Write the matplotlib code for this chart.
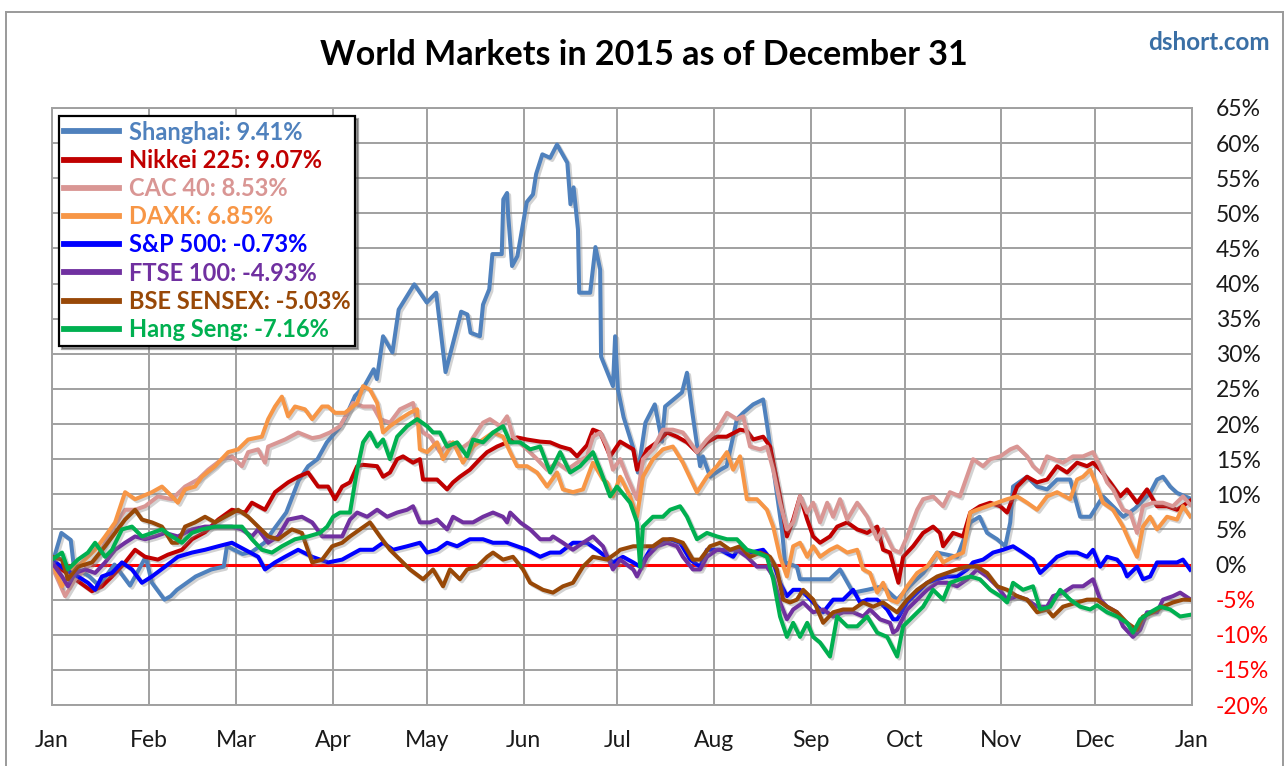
import matplotlib
matplotlib.use("Agg")
import matplotlib.pyplot as plt
import matplotlib.patheffects as pe
from matplotlib.lines import Line2D

# ---------------- data (day of year, % change) ----------------
MONTH_DAYS = [0, 31, 59, 90, 120, 151, 181, 212, 243, 273, 304, 334, 365]
MONTH_LABELS = ["Jan", "Feb", "Mar", "Apr", "May", "Jun", "Jul", "Aug", "Sep", "Oct", "Nov", "Dec", "Jan"]
Y_TICKS = list(range(-20, 70, 5))

SERIES_NAMES = ["Shanghai: 9.41%", "Nikkei 225: 9.07%", "CAC 40: 8.53%", "DAXK: 6.85%",
                "S&P 500: -0.73%", "FTSE 100: -4.93%", "BSE SENSEX: -5.03%", "Hang Seng: -7.16%"]
SERIES_COLORS = ["#4F81BD", "#C00000", "#D99694", "#F79646", "#0000FF", "#7030A0", "#984807", "#00B050"]

SH_DAYS = [0, 3, 6, 7, 12, 15, 20, 25, 30, 32, 36, 38, 40, 46, 51, 55, 56, 61, 64, 68, 71, 75, 79, 82, 85, 88,
           92, 94, 97, 100, 103, 104, 106, 109, 111, 116, 120, 123, 126, 131, 133, 134, 137, 138, 140, 141, 144,
           144.5, 145.7, 146, 147.3, 149, 152, 154, 155, 157, 159.5, 161.7, 162.7, 165, 166, 167, 168.4, 168.8,
           172.3, 174, 175.5, 175.8, 179.6, 180.3, 181.2, 183, 186, 187.6, 190, 193, 195.3, 196.3, 201.7, 203.3,
           205, 207.5, 208.4, 210.7, 214, 216, 219.3, 221.3, 224.5, 227.7, 229, 231, 233.7, 234.7, 238.5, 239.5,
           249, 252.3, 256.5, 261, 266, 269.3, 270.6, 274.7, 279, 283.4, 289.8, 294, 297, 299.4, 302.6, 305.2,
           306.8, 307.7, 312.2, 315.4, 318.6, 321.8, 326, 329.2, 332.4, 336.5, 343, 346.8, 351.6, 353.8, 355.7,
           358, 360.2, 364.4]
SH_VALS = [0, 4.5, 3.5, -0.3, -1.7, -3, 0, -3, 1.1, -2.6, -5, -4.5, -3.6, -1.7, -0.7, -0.3, 2.6, 1.5, 1.8, 3.1,
           5, 7.4, 12, 14, 15, 17.4, 19.5, 21, 24, 25.4, 27.8, 26.4, 32.5, 30.2, 36.3, 39.9, 37.3, 38.7, 27.4, 36,
           35.6, 33, 32.5, 37, 39.2, 44.2, 44.2, 52, 52.9, 50.1, 42.5, 43.9, 51.6, 52.7, 55.6, 58.4, 57.9, 59.8, 59,
           57.2, 51.3, 53.7, 47.7, 38.7, 38.7, 45.2, 42, 29.6, 25.4, 32.5, 24.9, 21, 16.7, 13.1, 20.2, 22.8, 17.5,
           22.5, 24.5, 27.3, 21.7, 14, 15.4, 12.5, 13.5, 14, 20.7, 21.6, 22.8, 23.5, 19.7, 13.5, 5, 0.3, -0.3, -2.1,
           -2.1, -0.7, -4, -3.6, -3.1, -4.5, -5, -3, -1.2, 1.7, 1.1, 6, 6.8, 4.5, 3.6, 2.6, 6, 11.1, 12.5, 11.1,
           10.7, 12.1, 12.1, 6.8, 6.8, 9.7, 6.8, 8, 10.2, 12.1, 12.5, 11.1, 10.2, 9.41]

NK_DAYS = [0, 12.8, 16, 19.2, 23.4, 26.6, 29.8, 33.9, 37.1, 41.6, 44.8, 49, 53.2, 57.6, 61.8, 64, 68.2, 71.4,
           75.6, 78.8, 82, 85.2, 88.4, 90.6, 92.9, 95.4, 97.7, 99.6, 104.1, 106, 108.2, 110.5, 112.4, 115.6, 117.8,
           118.8, 123.3, 126.5, 128.4, 130.6, 133.8, 137, 139.3, 142.5, 145.7, 148.9, 152.1, 156.3, 159.5, 162.7,
           165.9, 168.1, 171.3, 173.2, 175.5, 178.7, 181.9, 186.1, 187.3, 190.5, 193.7, 196.9, 200.1, 203.3, 206.5,
           209.7, 212.9, 216, 220.3, 222.5, 224.5, 227.7, 229.9, 233.1, 235.3, 237.3, 239.5, 241.8, 243.7, 245.9,
           249.1, 251.4, 254.6, 257.8, 261, 264.2, 266.1, 268.3, 271, 272.5, 275.7, 278.9, 282.1, 284.3, 285.3,
           288.5, 291.7, 294, 297.1, 300.4, 303.6, 305.8, 309, 312.2, 315.4, 318.6, 321.8, 325, 328.2, 331.4,
           333.3, 335.6, 338.8, 342, 344.2, 347.4, 350.6, 353.8, 357, 360.2, 364.4]
NK_VALS = [0.3, -3.8, -3.1, -1.7, 0.3, 2.1, 1.1, 0.7, 1.4, 2.1, 3.6, 4.6, 6.4, 7.8, 7.4, 8.8, 7.8, 10.3, 11.7,
           12.5, 13.1, 11.1, 11.1, 9.3, 11.1, 11.7, 14, 14.2, 14, 12.5, 13.1, 15, 15.4, 14.5, 15, 12.1, 12.1, 10.7,
           11.7, 12.5, 13.5, 15, 16, 16.8, 17.4, 18.1, 17.8, 17.5, 17.4, 16.8, 16.4, 15.4, 17, 19.2, 18.8, 15.4,
           17.5, 16.4, 13.5, 16.4, 17.4, 18.8, 18.2, 17.4, 16, 17.4, 18.2, 18.2, 19.2, 19, 17.8, 18.2, 16.8, 9.7,
           4, 6.4, 9.7, 6.4, 4, 3.1, 4, 5.4, 6, 5, 4.5, 5.4, 2.1, 1.7, -2.6, 1.1, 2.6, 4.5, 5.4, 4.5, 2.6, 4.5, 4,
           7.4, 8.3, 8.8, 8.3, 7.4, 11.1, 12.5, 11.7, 12.1, 14, 13.1, 14.5, 14, 14.5, 13.5, 11.7, 9.7, 10.7, 8.8,
           10.7, 8.3, 8.3, 7.8, 9.07]

CAC_DAYS = [0, 4.2, 7.4, 10.6, 14.7, 19.2, 23.4, 26.6, 29.8, 33.9, 38.4, 42.6, 46.7, 50, 54.4, 57.6, 60.8, 62.8,
            66, 68.2, 69.2, 74.6, 78.8, 83.3, 85.8, 89, 92.2, 96.4, 99.6, 102.8, 105, 108.2, 111.4, 115.6, 116.9,
            118.8, 121, 124.2, 127.4, 130.6, 133.8, 138, 140.2, 143.5, 145.7, 147.6, 152.1, 155.3, 158.5, 161.7,
            164.9, 168.1, 171.3, 173.2, 175.5, 177.7, 179.6, 181.9, 184.1, 187.3, 189.2, 192.4, 195.6, 198.8, 202,
            206.5, 209.7, 212.9, 216.1, 219.3, 221.3, 223.5, 226.7, 228.9, 230.9, 233.1, 235.3, 237.3, 239.5,
            241.8, 243.7, 245.9, 248.2, 250.1, 252.3, 254.6, 257.8, 261, 264.2, 266.1, 269.3, 271.5, 273.8, 277,
            278.9, 282.1, 285.3, 287.5, 290.7, 294.9, 298.1, 300.4, 303.6, 306.8, 309, 312.2, 314.1, 316.4, 318.6,
            323.7, 326.9, 330.1, 333.3, 335.6, 337.8, 339.7, 342.9, 345.2, 347.4, 349.3, 352.5, 355.7, 358.9,
            362.1, 364.4]
CAC_VALS = [-0.3, -4.5, -2.1, -0.7, 1.1, 5, 7.8, 7.8, 8.3, 9.7, 9.3, 11.1, 12.1, 13.5, 15, 15.4, 14, 16, 16.4,
            14.5, 16.8, 17.8, 18.8, 18, 18.2, 18.8, 19.7, 23, 22.5, 22.5, 20.7, 20.2, 22.1, 23, 20.2, 18.8, 18.2, 16,
            17.4, 16.4, 17.4, 20.2, 20.7, 19.7, 21.1, 18.2, 16.4, 15, 13.5, 14.5, 13.5, 14.5, 15.4, 18.2, 18.8,
            16.8, 13.5, 15, 12.5, 9.3, 15, 16.4, 19.2, 19.2, 18.8, 16, 17.8, 19.2, 21.6, 20.7, 21.1, 16.8, 16.4,
            16.8, 13.5, 8.8, 5, 6, 9.7, 7.4, 8.8, 6, 8.8, 6.8, 9.3, 6.4, 8.8, 6.8, 3.6, 5, 2.1, 1.7, 4, 7.8, 9.3,
            9.7, 8.3, 10.3, 9.7, 15, 14, 15, 15.4, 16.4, 16.8, 15.4, 14, 13.1, 15.4, 14.5, 15.4, 15.4, 16, 14, 11.7,
            10.7, 7.8, 7.4, 4.5, 8.3, 8.8, 8.8, 8.3, 9.7, 8.53]

DAX_DAYS = [0, 3.2, 6.4, 9.6, 13.8, 17, 20.2, 23.4, 26.6, 28.8, 32, 35.2, 38.4, 40.3, 42.6, 45.8, 48, 52.2,
            56.4, 59.6, 62.8, 67.2, 69.2, 71.4, 73.6, 75.6, 77.8, 81, 83.3, 86.5, 88.4, 90.6, 93.8, 97.7, 99.6,
            101.8, 104.1, 106, 108.2, 111.4, 114.6, 116.9, 117.8, 120.1, 123.3, 125.2, 128.4, 131.6, 134.8, 138,
            141.2, 144.4, 146.7, 148.9, 152.1, 155.3, 158.5, 161.7, 163.6, 166.8, 170, 173.2, 176.4, 177.7, 179.6,
            181.9, 185.1, 187.3, 189.2, 192.4, 195.6, 198.8, 202, 206.5, 209.7, 212.9, 216.1, 218.1, 220.3, 222.5,
            225.7, 228.9, 230.9, 233.1, 235.3, 237.3, 239.5, 241.8, 243.7, 245.9, 249.1, 251.4, 254.6, 257.8,
            259.7, 261.9, 264.2, 266.1, 268.3, 270.6, 273.8, 277, 280.2, 283.4, 285.3, 288.5, 291.7, 294, 296.2,
            299.4, 302.6, 305.8, 309, 312.2, 315.4, 318.6, 321.8, 326, 328.2, 330.1, 332.4, 334.6, 336.5, 339.7,
            342.9, 345.2, 347.4, 349.3, 351.6, 353.8, 357, 360.2, 362.1, 364.4]
DAX_VALS = [0.3, -3.1, -0.7, 0.3, 2.1, 4, 6, 10.3, 9.3, 9.7, 10.3, 11.1, 9.7, 8.8, 10.7, 11.1, 12.5, 14, 16, 16.4,
            17.8, 18.2, 20.7, 22.5, 23.9, 21.1, 22.5, 22.1, 20.7, 22.5, 22.5, 21.6, 21.6, 23, 25.4, 24.9, 23, 18.8,
            19.7, 20.7, 21.6, 22.1, 16.4, 16, 17.4, 15, 17.4, 14.5, 16.8, 17.8, 18.8, 18.2, 16, 14, 14, 13.1, 11.1,
            13.1, 10.7, 10.3, 10.7, 14.5, 12.1, 11.7, 9.7, 12.5, 9.7, 6.8, 12.5, 15, 16.4, 16.8, 14.5, 10.3, 12.5,
            14, 16, 13.5, 15.4, 9.3, 9.3, 7.8, 5.4, 1.1, -1.7, 2.6, 3.1, 1.1, 2.6, 1.1, 2.1, 2.6, 1.7, 2.1, -0.7,
            -1.2, -4, -2.6, -5, -5.4, -3.1, -1.2, -0.3, 1.7, 0.3, 1.1, 1.7, 7.4, 7.8, 8.3, 8.8, 9.3, 9.7, 8.8, 7.8,
            9.7, 10.3, 9.3, 12.1, 12.5, 13.5, 11.1, 8.8, 7.8, 5.4, 3.1, 1.1, 5.4, 6.8, 5, 6.8, 6.4, 8.3, 6.85]

SP_DAYS = [0, 4.2, 8.3, 11.5, 13.8, 16, 19.2, 22.4, 25.6, 28.8, 32, 36.2, 40.3, 44.8, 49, 53.2, 57.6, 61.8, 66,
           68.2, 71.4, 74.6, 78.8, 83.3, 88.4, 92.9, 94.5, 98.6, 102.8, 106, 109.2, 113.7, 117.8, 120.1, 123.3,
           126.5, 129.7, 133.8, 138, 141.2, 145.7, 148.9, 152.1, 156.3, 159.5, 162.7, 166.8, 171.3, 174.5, 179.6,
           182.8, 186.1, 188.3, 191.5, 194.7, 197.9, 201.1, 204.3, 207.5, 209.7, 213.9, 218.1, 220.3, 223.5,
           227.7, 230.9, 233.1, 235.3, 237.3, 239.5, 241.8, 243.7, 246.9, 250.1, 253.3, 256.5, 258.7, 261, 264.2,
           267.4, 269.3, 270.6, 273.8, 277, 280.2, 283.4, 286.6, 289.8, 293, 294.9, 298.1, 301.3, 304.5, 307.7,
           310.9, 314.1, 316.4, 318.6, 321.8, 325, 328.2, 331.4, 333.3, 335.6, 337.8, 341, 342.9, 344.2, 347.4,
           349.3, 351.6, 353.8, 357, 360.2, 362.1, 364.4]
SP_VALS = [0.7, -0.7, -1.7, -2.6, -3.6, -1.7, -1.2, 0.3, -0.7, -2.6, -1.7, -0.3, 1.1, 1.7, 2.1, 2.6, 3.1, 2.1, 1.1,
           -0.7, 0.3, 1.1, 2.1, 1.1, 0.3, 0.7, 1.1, 2.1, 2.1, 3.1, 2.1, 2.6, 3.1, 1.7, 2.1, 3.1, 2.6, 3.6, 3.6, 3.1,
           3.1, 2.6, 2.1, 1.1, 1.7, 1.7, 3.1, 3.1, 2.1, 0.3, 1.1, 0.3, -0.3, 2.1, 3.1, 3.6, 3.1, 0.7, -0.3, 2.1,
           2.1, 1.1, 2.6, 1.7, 2.1, 0.3, -2.6, -4.5, -3.6, -3.6, -4.5, -5.4, -6.8, -5, -5, -3.6, -5.4, -5, -5,
           -6.4, -7.8, -7.8, -5.4, -4, -2.6, -2.1, -1.7, -1.7, -0.7, 0.3, 0.7, 1.7, 2.1, 2.6, 1.7, 0.7, -1.2, -0.3,
           1.1, 1.7, 1.7, 1.1, 2.1, -0.3, 1.1, 0.7, -0.3, -1.7, -0.3, -2.1, -1.7, 0.3, 0.3, 0.3, 0.7, -0.73]

FT_DAYS = [0, 3.2, 5.1, 7.4, 10.6, 13.8, 17, 20.2, 23.4, 26.6, 29.8, 33, 36.2, 40.3, 44.8, 49, 53.2, 57.6, 60.8,
           64, 66, 69.2, 72.4, 75.6, 80, 83.3, 86.5, 89.7, 92.9, 95.4, 97.7, 100.9, 104.1, 107.3, 110.5, 113.7,
           115.6, 117.8, 121, 123.3, 126.5, 128.4, 131.6, 134.8, 138, 141.2, 144.4, 145.7, 146.7, 149.9, 153.1,
           156.3, 159.5, 160.4, 163.6, 166.8, 170, 173.2, 176.4, 179.6, 181.9, 186.1, 187.3, 190.5, 193.7, 196.9,
           200.1, 202, 205.2, 207.5, 209.7, 212.9, 216.1, 219.3, 222.5, 225.7, 228.9, 230.9, 233.1, 235.3, 237.3,
           240.5, 243.7, 246.9, 250.1, 253.3, 256.5, 259.7, 261.9, 265.1, 268.3, 269.3, 270.6, 273.8, 277, 280.2,
           283.4, 286.6, 289.8, 293, 296.2, 299.4, 302.6, 305.8, 309, 312.2, 315.4, 318.6, 320.5, 323.7, 326.9,
           330.1, 333.3, 335.6, 337.8, 341, 342.9, 346.1, 348.4, 350.6, 353.8, 355.7, 358.9, 361.2, 364.4]
FT_VALS = [0.3, -1.7, -3.1, -1.2, -0.7, -1.2, 0.3, 2.1, 3.1, 4, 3.6, 4, 4.5, 4, 5, 5.4, 5.4, 5.4, 5, 4, 5, 3.1, 4,
           6.4, 6.8, 6, 4, 4, 4, 6.4, 7.4, 6.8, 7.8, 6.8, 7.4, 7.8, 8.3, 6, 6, 6.4, 5, 6.8, 6, 6, 6.8, 7.4, 6.8, 6,
           7.4, 6, 5, 3.6, 3.6, 4, 3.1, 2.1, 3.1, 4, 2.6, -0.7, 0.7, -0.7, -1.7, 1.1, 2.6, 3.1, 2.6, 1.1, -0.7,
           -0.7, 1.1, 2.1, 2.1, 2.1, 1.1, -0.3, -0.3, -1.7, -5.4, -7.8, -6.4, -5.4, -6.8, -6.4, -7.4, -6.8, -6.8,
           -7.4, -6.4, -7.8, -8.3, -9.7, -9.3, -6.4, -5, -3.6, -2.6, -2.6, -3.1, -2.1, -0.7, -1.7, -3.1, -5, -4.5,
           -5, -6, -6, -4.5, -4, -3.1, -3.1, -2.1, -5, -6, -6.8, -8.8, -10.3, -9.3, -6.8, -6.8, -5, -4.5, -4,
           -4.93]

BSE_DAYS = [0, 3.2, 5.1, 8.3, 12.8, 17, 20.2, 23.4, 26.6, 28.8, 32, 35.2, 38.4, 40.3, 42.6, 45.8, 49, 52.2, 55.4,
            59.6, 62.8, 66, 69.2, 72.4, 76.8, 80, 83.3, 86.5, 89.7, 92.9, 95.4, 98.6, 101.8, 105, 108.2, 111.4,
            114.6, 118.8, 122, 125.2, 127.4, 130.6, 132.9, 136.1, 139.3, 141.2, 144.4, 147.6, 150.8, 153.1, 157.2,
            160.4, 163.6, 166.8, 170, 173.2, 177.7, 180.9, 181.9, 186.1, 192.4, 195.6, 198.8, 202, 205.2, 207.5,
            210.7, 213.9, 217.1, 220.3, 223.5, 226.7, 229.9, 232.1, 234.1, 236.3, 238.5, 240.5, 243.7, 246.9,
            250.1, 253.3, 256.5, 259.7, 262.9, 266.1, 269.3, 270.6, 273.8, 277, 280.2, 283.4, 286.6, 289.8, 293,
            296.2, 299.4, 302.6, 305.8, 309, 312.2, 315.4, 318.6, 320.5, 323.7, 328.2, 331.4, 334.6, 337.8, 341,
            344.2, 347.4, 349.3, 352.5, 355.7, 358.9, 362.1, 364.4]
BSE_VALS = [1.1, 0.7, -2.1, -0.3, 0.3, 2.6, 4.5, 6.4, 7.8, 6.4, 6, 5.4, 3.1, 3.1, 5.4, 6, 6.8, 6, 6.8, 7.8, 6.8,
            5.4, 4, 3.6, 5, 4.5, 0.3, 0.7, 2.6, 3.1, 4, 5, 6, 4, 2.1, 0.7, -0.7, -2.1, -0.7, -3.1, -0.7, -2.1, -0.7,
            -0.3, 1.1, 1.7, 0.7, 1.1, -0.7, -2.6, -3.6, -4, -3.1, -2.6, -0.3, 1.1, 0.7, 1.7, 2.1, 2.6, 2.6, 3.6,
            3.6, 3.1, 0.7, 0.7, 2.6, 3.1, 2.1, 2.6, 1.1, 1.7, 1.1, -0.7, -5, -5.4, -5, -3.6, -5, -8.3, -6.8, -6.4,
            -6.4, -5.4, -6, -5.4, -6.4, -6.8, -5, -3.6, -2.6, -1.7, -1.2, -0.7, -0.3, -0.3, -1.2, -3.1, -3.6, -4.5,
            -5, -6.8, -6.4, -7.4, -6, -5.4, -5, -5, -6, -6.8, -8.3, -9.3, -7.4, -6.8, -6, -5.4, -5, -5.03]

HS_DAYS = [0, 3.2, 5.1, 8.3, 11.5, 13.8, 17, 19.2, 22.4, 25.6, 28.8, 32, 35.2, 38.4, 41.6, 44.8, 48, 52.2, 56.4,
           60.8, 64, 67.2, 70.4, 73.6, 77.8, 82, 85.8, 88.1, 90, 92.2, 95.4, 97.7, 99.6, 101.8, 104.1, 106, 108.2,
           110.5, 113.7, 116.9, 120.1, 122, 124.2, 126.5, 129.7, 132.9, 134.8, 138, 141.2, 144.4, 146.7, 149.9,
           153.1, 156.3, 159.5, 162.7, 165.9, 169.1, 173.2, 175.5, 178.7, 180.9, 185.1, 187.3, 188.3, 189.2,
           192.4, 195.6, 197.9, 201.1, 203.3, 206.5, 209.7, 212.9, 216.1, 219.3, 222.5, 225.7, 228.9, 230.9,
           233.1, 235.3, 237.3, 239.5, 241.8, 243.7, 245.9, 249.1, 251.4, 254.6, 257.8, 261, 264.2, 267.4, 270.6,
           272.5, 275.7, 278.9, 282.1, 285.3, 287.5, 290.7, 294, 297.1, 300.4, 303.6, 305.8, 307.7, 310.9, 314.1,
           316.4, 319.6, 322.8, 326, 329.2, 332.4, 334.6, 337.8, 341, 344.2, 346.1, 348.4, 351.6, 354.8, 358,
           361.2, 364.4]
HS_VALS = [0.7, 1.7, -0.7, 0.7, 1.7, 3.1, 1.1, 2.1, 5, 5.4, 4, 4.5, 5, 4, 3.1, 4.5, 5, 5.4, 5.4, 5.4, 3.6, 2.1,
           1.7, 2.6, 3.6, 4, 4.5, 5.4, 6.8, 7.4, 7.4, 13.5, 17.4, 18.8, 16.8, 17.8, 15, 18.2, 19.7, 20.7, 19.7,
           18.8, 18.8, 16.8, 17.4, 15.4, 17.8, 17.4, 18.8, 19.7, 17.4, 17.4, 16.4, 16.8, 13.1, 16, 13.1, 14, 16,
           13.5, 9.7, 11.1, 8.8, 6, -0.3, 5.4, 6.8, 6.8, 7.8, 8.3, 6.8, 3.6, 4.5, 4, 3.6, 3.6, 2.1, 1.7, 1.1, -2.1,
           -7.4, -10.3, -8.3, -10.3, -8.3, -10.3, -11.1, -13.1, -7.4, -8.8, -8.8, -7.4, -9.7, -10.3, -13.1, -8.8,
           -7.4, -6, -3.6, -5, -2.6, -2.1, -1.7, -2.1, -3.6, -4.5, -5.4, -2.6, -3.6, -3.1, -6.4, -6, -3.6, -5, -6,
           -6.4, -5.8, -6.8, -7.4, -8.3, -9.7, -7.8, -6.8, -6, -6.4, -7.4, -7.16]

SERIES_DAYS = [SH_DAYS, NK_DAYS, CAC_DAYS, DAX_DAYS, SP_DAYS, FT_DAYS, BSE_DAYS, HS_DAYS]
SERIES_VALS = [SH_VALS, NK_VALS, CAC_VALS, DAX_VALS, SP_VALS, FT_VALS, BSE_VALS, HS_VALS]

TITLE = "World Markets in 2015 as of December 31"
SOURCE = "dshort.com"

# ---------------- figure ----------------
W, H = 1287, 766
fig = plt.figure(figsize=(W / 100, H / 100), dpi=100)
FONT = "Lato"

# outer chart frame (left, top, right)
frame_col = "#9A9A9A"
fig.add_artist(Line2D([6 / W, 6 / W], [0, 1 - 12 / H], color=frame_col, lw=1.4, transform=fig.transFigure))
fig.add_artist(Line2D([6 / W, 1283 / W], [1 - 12 / H, 1 - 12 / H], color=frame_col, lw=1.4, transform=fig.transFigure))
fig.add_artist(Line2D([1283 / W, 1283 / W], [0, 1 - 12 / H], color=frame_col, lw=1.4, transform=fig.transFigure))

ax = fig.add_axes([52 / W, (H - 705) / H, 1140 / W, 597 / H])

grid_col = "#A0A0A0"
ax.axhline(0, color="#FF0000", lw=2.2, zorder=1)

shadow = [pe.SimpleLineShadow(offset=(1.5, -1.5), shadow_color="#808080", alpha=0.35), pe.Normal()]
handles = []
for days, vals, name, col in zip(SERIES_DAYS, SERIES_VALS, SERIES_NAMES, SERIES_COLORS):
    ln, = ax.plot(days, vals, color=col, lw=2.9, label=name, zorder=2,
                  solid_joinstyle="round", path_effects=shadow)
    handles.append(ln)

ax.set_xlim(0, 365)
ax.set_ylim(-20, 65)
ax.set_xticks(MONTH_DAYS)
ax.set_xticklabels(MONTH_LABELS)
ax.set_yticks(Y_TICKS)
ax.set_yticklabels([f"{v}%" for v in Y_TICKS])
ax.yaxis.tick_right()
ax.tick_params(axis="both", length=0)
ax.tick_params(axis="y", pad=17)
ax.tick_params(axis="x", pad=18)
for lab in ax.get_yticklabels():
    lab.set_fontfamily(FONT)
    lab.set_fontsize(16.5)
    lab.set_color("#FF0000" if lab.get_text().startswith("-") else "#1A1A1A")
for lab in ax.get_xticklabels():
    lab.set_fontfamily(FONT)
    lab.set_fontsize(16.5)
    lab.set_color("#1A1A1A")

ax.grid(True, color=grid_col, lw=1.4, zorder=0)
ax.set_axisbelow(True)
for sp in ax.spines.values():
    sp.set_color(grid_col)
    sp.set_linewidth(1.4)

leg = ax.legend(handles=handles, loc="upper left", bbox_to_anchor=(7 / 1140, 1 - 8 / 597),
                borderaxespad=0, frameon=True, fancybox=False, shadow=True,
                prop={"family": FONT, "weight": "bold", "size": 17},
                handlelength=2.35, handletextpad=0.42, labelspacing=0.22, borderpad=0.2)
leg.get_frame().set_edgecolor("black")
leg.get_frame().set_linewidth(1.6)
for txt, col in zip(leg.get_texts(), SERIES_COLORS):
    txt.set_color(col)
for lh in leg.get_lines():
    lh.set_linewidth(4.2)
    lh.set_path_effects([])

fig.text(644 / W, 1 - 55 / H, TITLE, ha="center", va="center", fontfamily=FONT,
         fontweight="bold", fontsize=24.5, color="black")
fig.text(1270 / W, 1 - 42 / H, SOURCE, ha="right", va="center", fontfamily=FONT,
         fontweight="bold", fontsize=17.5, color="#3A6FA5")

fig.savefig("out.png", dpi=100)
